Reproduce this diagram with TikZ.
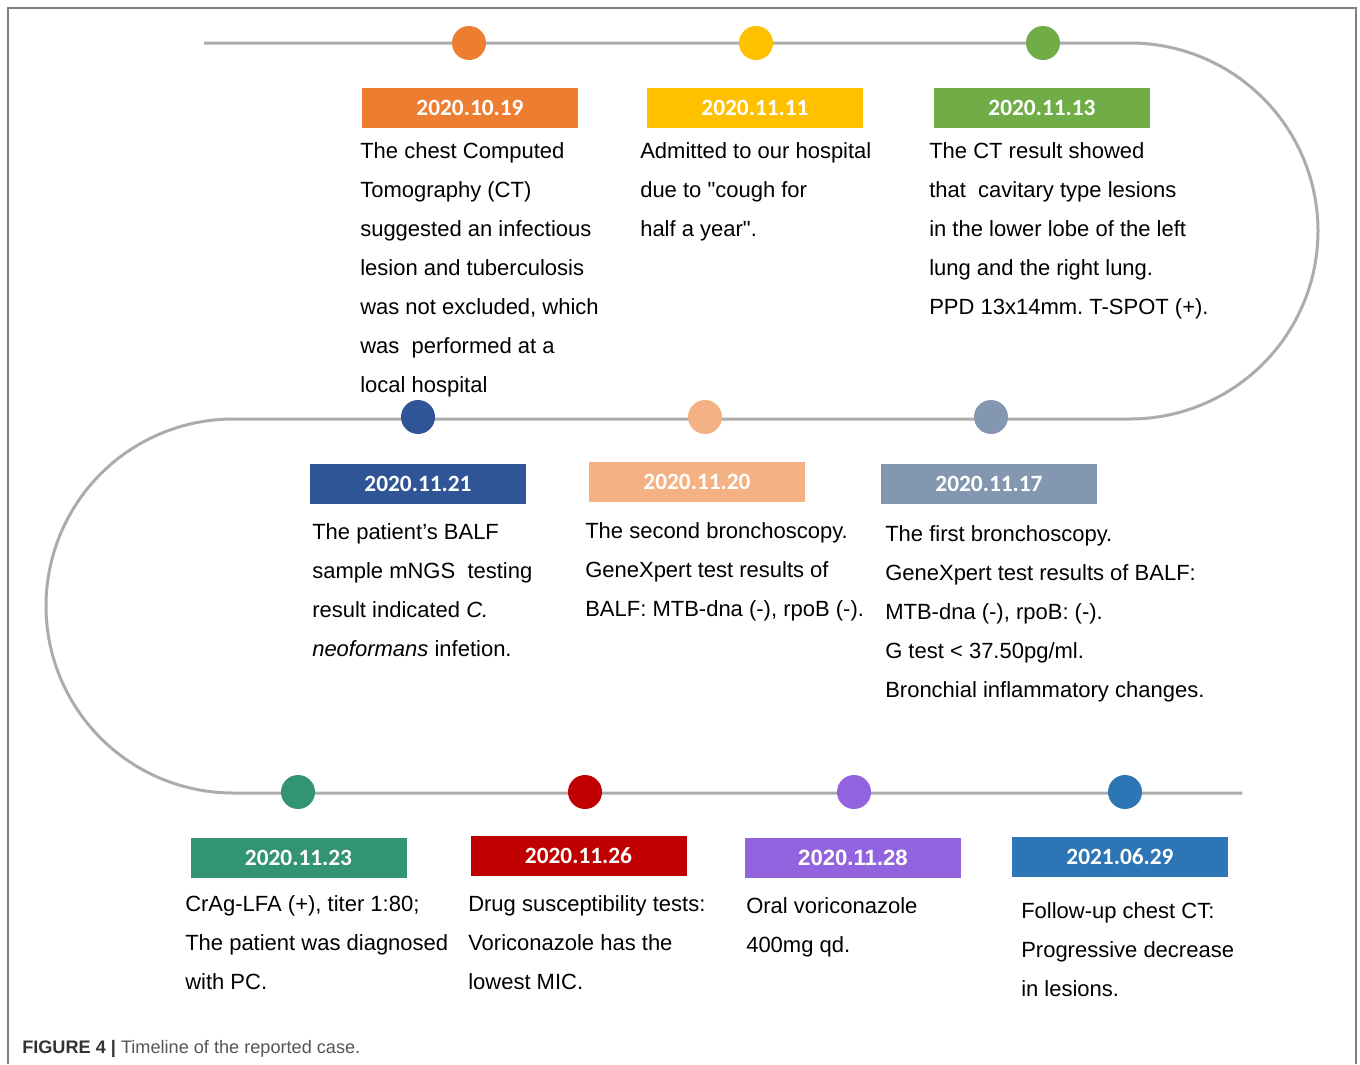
\documentclass[tikz,border=0pt]{standalone}
\usepackage{fontspec}
\setmainfont{Liberation Sans}[Ligatures=TeXOff]
\newfontfamily\datefont{Carlito}
\definecolor{trackgray}{HTML}{ADABAB}
\definecolor{framegray}{HTML}{7F7F7F}
\definecolor{cOrange}{HTML}{ED7D31}
\definecolor{cYellow}{HTML}{FFC000}
\definecolor{cGreen}{HTML}{70AD47}
\definecolor{cNavy}{HTML}{2F5597}
\definecolor{cPeach}{HTML}{F4B183}
\definecolor{cSlate}{HTML}{8497B0}
\definecolor{cTeal}{HTML}{339473}
\definecolor{cRed}{HTML}{C00000}
\definecolor{cPurple}{HTML}{9163DE}
\definecolor{cBlue}{HTML}{2E75B6}
\definecolor{capdark}{HTML}{333333}
\definecolor{capgray}{HTML}{555555}
\newcommand\fs{\rule{0pt}{13pt}}
\frenchspacing
\tikzset{
  track/.style={draw=trackgray, line width=2.25pt},
  dot/.style={circle, minimum size=25.5pt, inner sep=0pt, fill=#1},
  datebox/.style={fill=#1, minimum width=162pt, minimum height=30pt, inner sep=0pt, text=white, font=\datefont\bfseries\fontsize{17.5}{20}\selectfont},
  desc/.style={anchor=north west, inner sep=0pt, align=left, font=\fontsize{16.5}{29.25}\selectfont},
}
\begin{document}
\frenchspacing
\begin{tikzpicture}[x=0.75pt, y=-0.75pt]
\useasboundingbox (0,0) rectangle (1360,1064);
% frame
\draw[framegray, line width=1.5pt] (8,1064) -- (8,8) -- (1356,8) -- (1356,1064);
% track
\draw[track] (204,43) -- (1130,43)
  -- plot[domain=-90:90, samples=91, variable=\t] ({1130+188*cos(\t)}, {231+188*sin(\t)})
  -- (233,419)
  -- plot[domain=-90:90, samples=91, variable=\t] ({233-187*cos(\t)}, {606+187*sin(\t)})
  -- (1242,793);
% dots
\node[dot=cOrange] (c1) at (469,43) {};
\node[dot=cYellow] (c2) at (756,43) {};
\node[dot=cGreen]  (c3) at (1043,43) {};
\node[dot=cNavy]   (c4) at (418,417) {};
\node[dot=cPeach]  (c5) at (705,417) {};
\node[dot=cSlate]  (c6) at (991,417) {};
\node[dot=cTeal]   (c7) at (298,792) {};
\node[dot=cRed]    (c8) at (585,792) {};
\node[dot=cPurple] (c9) at (854,792) {};
\node[dot=cBlue]   (c10) at (1125,792) {};
% date boxes
\node[datebox=cOrange] (d1) at (470,108) {2020.10.19};
\node[datebox=cYellow] (d2) at (755,108) {2020.11.11};
\node[datebox=cGreen]  (d3) at (1042,108) {2020.11.13};
\node[datebox=cNavy]   (d4) at (418,484) {2020.11.21};
\node[datebox=cPeach]  (d5) at (697,482) {2020.11.20};
\node[datebox=cSlate]  (d6) at (989,484) {2020.11.17};
\node[datebox=cTeal]   (d7) at (298.5,858) {2020.11.23};
\node[datebox=cRed]    (d8) at (578.5,856) {2020.11.26};
\node[datebox=cPurple, font=\bfseries\fontsize{16.6}{20}\selectfont] (d9) at (853,858) {2020.11.28};
\node[datebox=cBlue]   (d10) at (1120,857) {2021.06.29};
% descriptions
\node[desc] (t1) at (360,140.7) {\fs The chest Computed\\Tomography (CT)\\suggested an infectious\\lesion and tuberculosis\\was not excluded, which\\was\ \ performed at a\\local hospital};
\node[desc] (t2) at (640,140.7) {\fs Admitted to our hospital\\due to "cough for\\half a year".};
\node[desc] (t3) at (929,140.7) {\fs The CT result showed\\that\ \ cavitary type lesions\\in the lower lobe of the left\\lung and the right lung.\\PPD 13x14mm. T-SPOT (+).};
\node[desc] (t4) at (312,521.7) {\fs The patient’s BALF\\sample mNGS\ \ testing\\result indicated \textit{C.}\\\textit{neoformans} infetion.};
\node[desc] (t5) at (585,520.7) {\fs The second bronchoscopy.\\GeneXpert test results of\\BALF: MTB-dna (-), rpoB (-).};
\node[desc] (t6) at (885,523.7) {\fs The first bronchoscopy.\\GeneXpert test results of BALF:\\MTB-dna (-), rpoB: (-).\\G test < 37.50pg/ml.\\Bronchial inflammatory changes.};
\node[desc] (t7) at (185,893.7) {\fs CrAg-LFA (+), titer 1:80;\\The patient was diagnosed\\with PC.};
\node[desc] (t8) at (468,893.7) {\fs Drug susceptibility tests:\\Voriconazole has the\\lowest MIC.};
\node[desc] (t9) at (746,895.7) {\fs Oral voriconazole\\400mg qd.};
\node[desc] (t10) at (1021,900.7) {\fs Follow-up chest CT:\\Progressive decrease\\in lesions.};
% caption
\node[anchor=base west, inner sep=0pt, font=\fontsize{13.6}{16}\selectfont] (cap) at (22,1053) {\textcolor{capdark}{\textbf{FIGURE 4 |}} \textcolor{capgray}{Timeline of the reported case.}};
\end{tikzpicture}
\end{document}
